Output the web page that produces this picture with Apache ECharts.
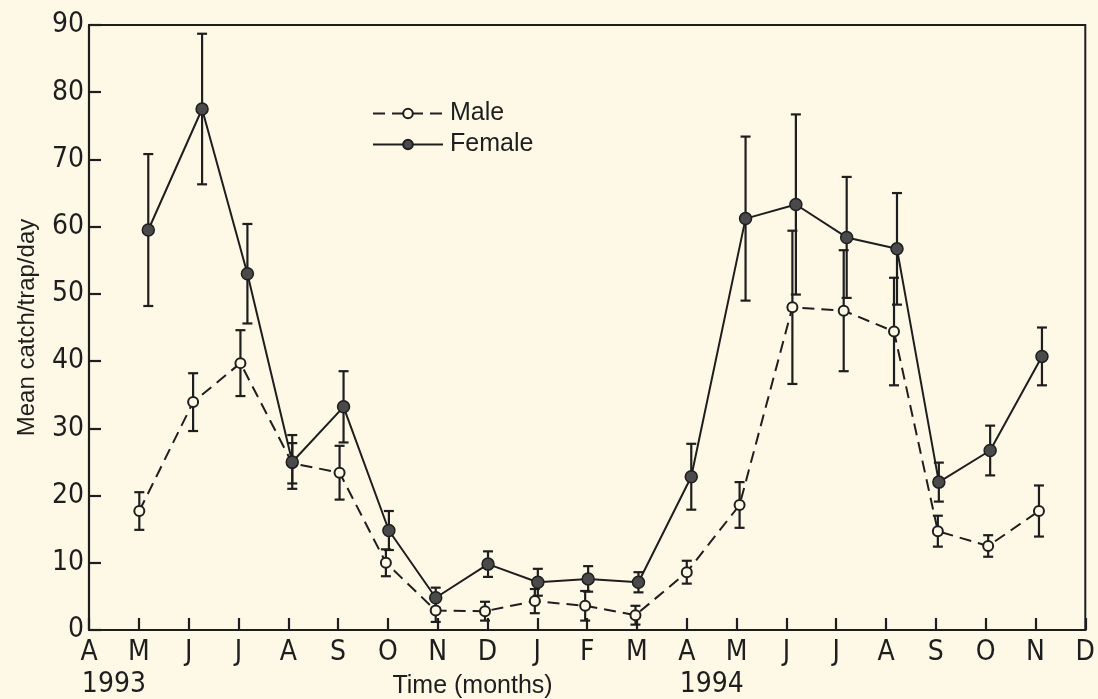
<!DOCTYPE html>
<html>
<head>
<meta charset="utf-8">
<script src="https://cdn.jsdelivr.net/npm/echarts@6/dist/echarts.min.js"></script>
<style>
  html, body { margin: 0; padding: 0; background: #fdf9e6; }
  #chart { width: 1098px; height: 699px; }
</style>
</head>
<body>
<div id="chart"></div>
<script>
// Month ticks from April 1993 (0) to December 1994 (20)
const monthLabels = ['A','M','J','J','A','S','O','N','D','J','F','M','A','M','J','J','A','S','O','N','D'];
const yearLabels = [{ text: '1993', at: 0.5 }, { text: '1994', at: 12.5 }];

// Sampling positions (in months since April 1993), means and standard errors
const maleX    = [1.01, 2.09, 3.04, 4.08, 5.03, 5.96, 6.96, 7.95, 8.95, 9.96, 10.97, 12.0, 13.06, 14.12, 15.15, 16.16, 17.04, 18.05, 19.07];
const maleMean = [17.7, 33.9, 39.7, 24.8, 23.4, 10.0, 2.9, 2.8, 4.3, 3.6, 2.2, 8.6, 18.6, 48.0, 47.5, 44.4, 14.7, 12.5, 17.7];
const maleSE   = [2.8, 4.3, 4.9, 3.0, 4.0, 2.0, 1.7, 1.4, 1.8, 2.2, 1.4, 1.7, 3.4, 11.4, 9.0, 8.0, 2.3, 1.6, 3.8];

const femaleX    = [1.19, 2.27, 3.18, 4.08, 5.11, 6.02, 6.96, 8.01, 9.01, 10.02, 11.03, 12.09, 13.18, 14.19, 15.21, 16.22, 17.06, 18.09, 19.13];
const femaleMean = [59.5, 77.5, 53.0, 25.0, 33.2, 14.8, 4.8, 9.8, 7.1, 7.6, 7.1, 22.8, 61.2, 63.3, 58.4, 56.7, 22.0, 26.7, 40.7];
const femaleSE   = [11.3, 11.2, 7.4, 4.0, 5.3, 2.9, 1.5, 1.9, 2.0, 1.9, 1.5, 4.9, 12.2, 13.4, 9.0, 8.3, 2.9, 3.7, 4.3];

const INK = '#1e1e1e';
const BG = '#fdf9e6';
const DIN = '"DejaVu Sans Condensed", "DejaVu Sans", sans-serif';
const SANS = '"Liberation Sans", Arial, sans-serif';

function points(xs, ys) { return xs.map((x, i) => [x, ys[i]]); }
function bars(xs, ys, se) { return xs.map((x, i) => [x, ys[i] - se[i], ys[i] + se[i]]); }

function errorBarSeries(name, data) {
  return {
    type: 'custom',
    name: name + ' SE',
    silent: true,
    z: 2,
    data: data,
    encode: { x: 0, y: [1, 2] },
    renderItem: function (params, api) {
      const lo = api.coord([api.value(0), api.value(1)]);
      const hi = api.coord([api.value(0), api.value(2)]);
      const w = 5;
      const style = { stroke: INK, lineWidth: 2.2 };
      return {
        type: 'group',
        children: [
          { type: 'line', shape: { x1: lo[0], y1: lo[1], x2: hi[0], y2: hi[1] }, style: style },
          { type: 'line', shape: { x1: hi[0] - w, y1: hi[1], x2: hi[0] + w, y2: hi[1] }, style: style },
          { type: 'line', shape: { x1: lo[0] - w, y1: lo[1], x2: lo[0] + w, y2: lo[1] }, style: style }
        ]
      };
    }
  };
}

const chart = echarts.init(document.getElementById('chart'), null, { renderer: 'canvas' });

chart.setOption({
  backgroundColor: BG,
  animation: false,
  grid: { left: 89, right: 4, top: 25, bottom: 69, show: true, borderColor: INK, borderWidth: 2, backgroundColor: 'transparent' },
  legend: {
    data: ['Male', 'Female'],
    orient: 'vertical',
    left: 367,
    top: 96,
    itemWidth: 70,
    itemHeight: 12,
    itemGap: 6,
    textStyle: { fontFamily: SANS, fontSize: 25, color: INK, padding: [0, 0, 0, 2] }
  },
  xAxis: {
    type: 'value',
    min: 0,
    max: 20,
    interval: 1,
    axisLine: { lineStyle: { color: INK, width: 2.2 } },
    axisTick: { inside: true, length: 12, lineStyle: { color: INK, width: 2.2 } },
    splitLine: { show: false },
    axisLabel: {
      margin: 9,
      fontFamily: DIN,
      fontSize: 28,
      color: INK,
      formatter: function (v) { return monthLabels[Math.round(v)] || ''; }
    }
  },
  yAxis: {
    type: 'value',
    min: 0,
    max: 90,
    interval: 10,
    name: 'Mean catch/trap/day',
    nameLocation: 'middle',
    nameGap: 50,
    nameRotate: 90,
    nameTextStyle: { fontFamily: SANS, fontSize: 24, color: INK },
    axisLine: { lineStyle: { color: INK, width: 2.2 } },
    axisTick: { inside: true, length: 12, lineStyle: { color: INK, width: 2.2 } },
    splitLine: { show: false },
    axisLabel: { margin: 5, fontFamily: DIN, fontSize: 28, color: INK }
  },
  series: [
    errorBarSeries('Male', bars(maleX, maleMean, maleSE)),
    errorBarSeries('Female', bars(femaleX, femaleMean, femaleSE)),
    {
      type: 'line',
      name: 'Male',
      z: 3,
      data: points(maleX, maleMean),
      symbol: 'circle',
      symbolSize: 10,
      itemStyle: { color: BG, borderColor: INK, borderWidth: 2 },
      lineStyle: { color: INK, width: 2, type: [12, 7] }
    },
    {
      type: 'line',
      name: 'Female',
      z: 4,
      data: points(femaleX, femaleMean),
      symbol: 'circle',
      symbolSize: 12,
      itemStyle: { color: '#4a4a4a', borderColor: INK, borderWidth: 1.5 },
      lineStyle: { color: INK, width: 2, type: 'solid' }
    }
  ]
});

// Year labels and axis title placed under the month ticks
const base = chart.convertToPixel({ gridIndex: 0 }, [0, 0]);
const graphics = yearLabels.map(function (y) {
  const p = chart.convertToPixel({ gridIndex: 0 }, [y.at, 0]);
  return {
    type: 'text',
    x: p[0], y: base[1] + 55,
    style: { text: y.text, fontFamily: DIN, fontSize: 28, fill: INK, align: 'center', verticalAlign: 'middle' }
  };
});
const tx = chart.convertToPixel({ gridIndex: 0 }, [7.7, 0]);
graphics.push({
  type: 'text',
  x: tx[0], y: base[1] + 56,
  style: { text: 'Time (months)', fontFamily: SANS, fontSize: 25, fill: INK, align: 'center', verticalAlign: 'middle' }
});
chart.setOption({ graphic: graphics });
</script>
</body>
</html>
